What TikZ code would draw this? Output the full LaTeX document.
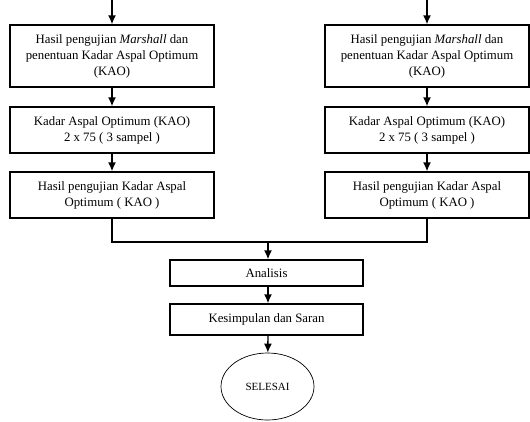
\documentclass[tikz,border=0pt]{standalone}
\usepackage{fontspec}
\setmainfont{Liberation Serif}
\usetikzlibrary{arrows,arrows.meta,shapes}
\tikzset{
 stepbox/.style={draw, line width=1.4pt, minimum width=204pt, align=center, inner sep=0pt},
 flow/.style={-{Latex[length=9pt,width=8pt]}, line width=1.4pt},
 ends/.style={draw, ellipse, line width=0.7pt, minimum width=93pt, minimum height=67pt, inner sep=0pt}
}
\begin{document}
\begin{tikzpicture}[x=1pt, y=-1pt, font=\fontsize{12.8}{16}\selectfont]
 \useasboundingbox (0,0) rectangle (530,421);
%
 \coordinate (startA) at (112,0);
 \coordinate (startB) at (427,0);
 \coordinate (join) at (268,242);
%
 \node[stepbox, minimum height=62pt] (hasilA) at (112,56) {Hasil pengujian \textit{Marshall} dan\\penentuan Kadar Aspal Optimum\\(KAO)};
 \node[stepbox, minimum height=46pt] (kadarA) at (112,130) {Kadar Aspal Optimum (KAO)\\2 x 75 ( 3 sampel )};
 \node[stepbox, minimum height=46pt] (ujiA) at (112,195) {Hasil pengujian Kadar Aspal\\Optimum ( KAO )};
%
 \node[stepbox, minimum height=62pt] (hasilB) at (427,56) {Hasil pengujian \textit{Marshall} dan\\penentuan Kadar Aspal Optimum\\(KAO)};
 \node[stepbox, minimum height=46pt] (kadarB) at (427,130) {Kadar Aspal Optimum (KAO)\\2 x 75 ( 3 sampel )};
 \node[stepbox, minimum height=46pt] (ujiB) at (427,195) {Hasil pengujian Kadar Aspal\\Optimum ( KAO )};
%
 \node[stepbox, minimum width=193pt, minimum height=26pt] (analisis) at (266.5,273) {Analisis};
 \node[stepbox, minimum width=193pt, minimum height=31pt] (saran) at (266.5,319.5) {Kesimpulan dan Saran};
 \node[ends, font=\fontsize{11}{13}\selectfont] (selesai) at (267.5,386.5) {SELESAI};
%
 \draw[flow] (startA) -- (hasilA);
 \draw[flow] (hasilA) -- (kadarA);
 \draw[flow] (kadarA) -- (ujiA);
 \draw[flow] (startB) -- (hasilB);
 \draw[flow] (hasilB) -- (kadarB);
 \draw[flow] (kadarB) -- (ujiB);
%
 \draw[line width=1.4pt] (ujiA.south) |- (join) -| (ujiB.south);
 \draw[flow] (join) -- (join |- analisis.north);
 \draw[flow] (analisis.south -| join) -- (saran.north -| join);
 \draw[flow] (saran.south -| join) -- (selesai);
\end{tikzpicture}
\end{document}
